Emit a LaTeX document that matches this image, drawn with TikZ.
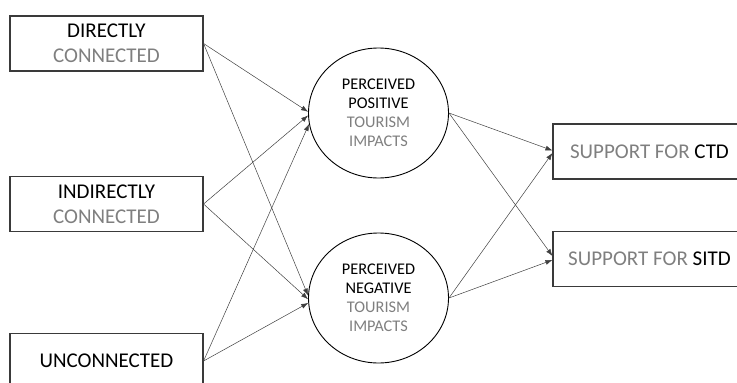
\documentclass[tikz,border=0pt]{standalone}
\usepackage{fontspec}
\setmainfont{Carlito}
\usetikzlibrary{shapes.geometric,arrows.meta}
\definecolor{txtgrey}{HTML}{7F7F7F}
\definecolor{boxline}{HTML}{3A3A3A}
\begin{document}
\begin{tikzpicture}[x=1pt,y=-1pt,
  inbox/.style={draw=boxline,line width=1.1pt,minimum width=193pt,minimum height=55pt,inner sep=0pt,align=center,font=\fontsize{21}{25}\selectfont},
  latent/.style={ellipse,draw=black,line width=0.9pt,minimum width=140pt,minimum height=130pt,inner sep=0pt,align=center,font=\fontsize{16.3}{19}\selectfont},
  link/.style={draw=black!75,line width=0.5pt,-{Latex[length=7pt,width=5pt]}}]
\clip (0,0) rectangle (737,383);
\node[inbox] (dc) at (106.5,43.5) {DIRECTLY\\\textcolor{txtgrey}{CONNECTED}};
\node[inbox] (ic) at (106.5,204) {INDIRECTLY\\\textcolor{txtgrey}{CONNECTED}};
\node[inbox] (uc) at (106.5,361) {UNCONNECTED};
\node[latent] (pos) at (378.5,113) {PERCEIVED\\POSITIVE\\\textcolor{txtgrey}{TOURISM}\\\textcolor{txtgrey}{IMPACTS}};
\node[latent] (neg) at (378.5,298) {PERCEIVED\\NEGATIVE\\\textcolor{txtgrey}{TOURISM}\\\textcolor{txtgrey}{IMPACTS}};
\node[inbox] (ctd) at (649.5,151.5) {\textcolor{txtgrey}{SUPPORT FOR} CTD};
\node[inbox] (sitd) at (649.5,259) {\textcolor{txtgrey}{SUPPORT FOR} SITD};
\draw[link] (dc.east) -- (pos.179);
\draw[link] (ic.east) -- (pos.182);
\draw[link] (uc.east) -- (pos.189);
\draw[link] (dc.east) -- (neg.178);
\draw[link] (ic.east) -- (neg.181);
\draw[link] (uc.east) -- (neg.184);
\draw[link] (pos.east) -- ([yshift=1pt]ctd.west);
\draw[link] (neg.east) -- ([yshift=-1.5pt]ctd.west);
\draw[link] (pos.east) -- ([yshift=3pt]sitd.west);
\draw[link] (neg.east) -- ([yshift=-1pt]sitd.west);
\end{tikzpicture}
\end{document}
